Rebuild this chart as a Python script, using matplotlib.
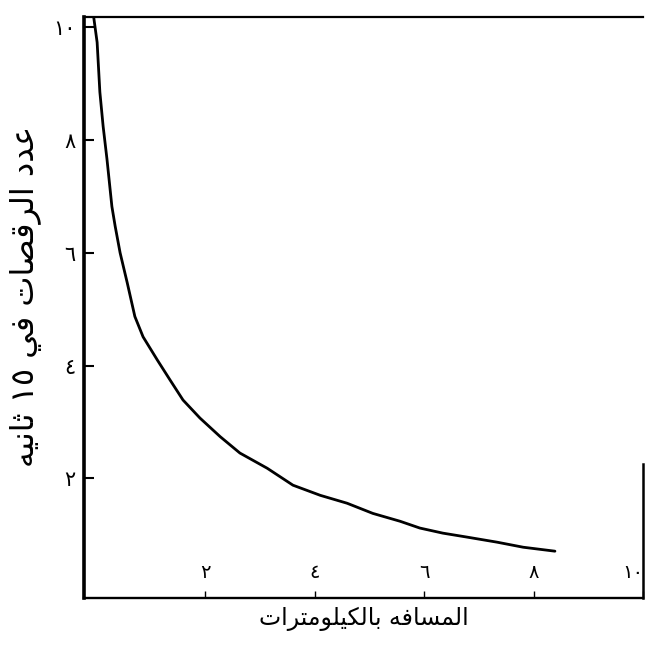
import matplotlib
matplotlib.use('Agg')
import matplotlib.pyplot as plt

# بيانات المنحنى (المسافة بالكيلومترات، عدد الرقصات)
distance_km = [-0.05, 0.02, 0.07, 0.13, 0.20, 0.29, 0.35, 0.44, 0.57, 0.71,
               0.86, 1.12, 1.35, 1.59, 1.90, 2.27, 2.63, 3.13, 3.60, 4.10,
               4.59, 5.06, 5.56, 5.92, 6.34, 6.78, 7.33, 7.81, 8.39]
dances = [10.23, 9.73, 8.85, 8.24, 7.66, 6.82, 6.47, 6.00, 5.47, 4.87,
          4.51, 4.10, 3.75, 3.39, 3.07, 2.74, 2.45, 2.18, 1.88, 1.70,
          1.56, 1.38, 1.24, 1.12, 1.03, 0.96, 0.87, 0.78, 0.71]

x_ticks = [2, 4, 6, 8, 10]
x_tick_labels = ['٢', '٤', '٦', '٨', '١٠']
y_ticks = [2, 4, 6, 8, 10]
y_tick_labels = ['٢', '٤', '٦', '٨', '١٠']

x_label = 'المسافه بالكيلومترات'
y_label = 'عدد الرقصات في ١٥ ثانيه'

# matplotlib لا يشكّل الحروف العربية، فنحوّلها الى اشكال العرض يدويا
# (isolated code, dual joining?)
FORMS = {
    'ا': (0xFE8D, False), 'ب': (0xFE8F, True), 'ة': (0xFE93, False),
    'ت': (0xFE95, True), 'ث': (0xFE99, True), 'ج': (0xFE9D, True),
    'د': (0xFEA9, False), 'ر': (0xFEAD, False), 'س': (0xFEB1, True),
    'ص': (0xFEB9, True), 'ع': (0xFEC9, True), 'ف': (0xFED1, True),
    'ق': (0xFED5, True), 'ك': (0xFED9, True), 'ل': (0xFEDD, True),
    'م': (0xFEE1, True), 'ن': (0xFEE5, True), 'ه': (0xFEE9, True),
    'و': (0xFEED, False), 'ي': (0xFEF1, True),
}


def shape_word(word):
    out = ''
    for i, ch in enumerate(word):
        if ch not in FORMS:
            out += ch
            continue
        base, dual = FORMS[ch]
        prev_joins = i > 0 and word[i - 1] in FORMS and FORMS[word[i - 1]][1]
        next_joins = dual and i + 1 < len(word) and word[i + 1] in FORMS
        if prev_joins and next_joins:
            out += chr(base + 3)
        elif prev_joins:
            out += chr(base + 1)
        elif next_joins:
            out += chr(base + 2)
        else:
            out += chr(base)
    return out


def arabic(text):
    words = []
    for w in text.split(' '):
        if w.isdigit():
            words.append(w)
        else:
            words.append(shape_word(w)[::-1])
    return ' '.join(words[::-1])


plt.rcParams['font.family'] = ['DejaVu Sans']

fig = plt.figure(figsize=(6.45, 6.51), dpi=100)
ax = fig.add_axes([84 / 645, 53 / 651, 559 / 645, 581 / 651])

ax.plot(distance_km, dances, color='black', linewidth=2.0,
        solid_capstyle='round', solid_joinstyle='round')

ax.set_xlim(-0.22, 10.0)
ax.set_ylim(-0.12, 10.18)

# الاطار: الحافة اليمنى مرسومة جزئيا فقط
ax.spines['right'].set_visible(False)
ax.spines['left'].set_linewidth(2.6)
ax.spines['bottom'].set_linewidth(1.7)
ax.spines['top'].set_linewidth(1.6)
ax.axvline(10.0, ymin=0, ymax=0.23, color='black', linewidth=1.8, clip_on=False)

ax.set_xticks(x_ticks)
ax.set_xticklabels(x_tick_labels, fontsize=14)
ax.get_xticklabels()[-1].set_ha('right')
ax.set_yticks(y_ticks)
ax.set_yticklabels(y_tick_labels, fontsize=15)
ax.tick_params(axis='x', direction='in', length=5, width=1.0, pad=-25)
ax.tick_params(axis='y', direction='in', length=7, width=1.5, pad=6)

ax.set_xlabel(arabic(x_label), fontsize=17, labelpad=6)
ax.set_ylabel(arabic(y_label), fontsize=23, labelpad=16)
ax.yaxis.set_label_coords(-0.075, 0.52)

fig.savefig('out.png', dpi=100)
